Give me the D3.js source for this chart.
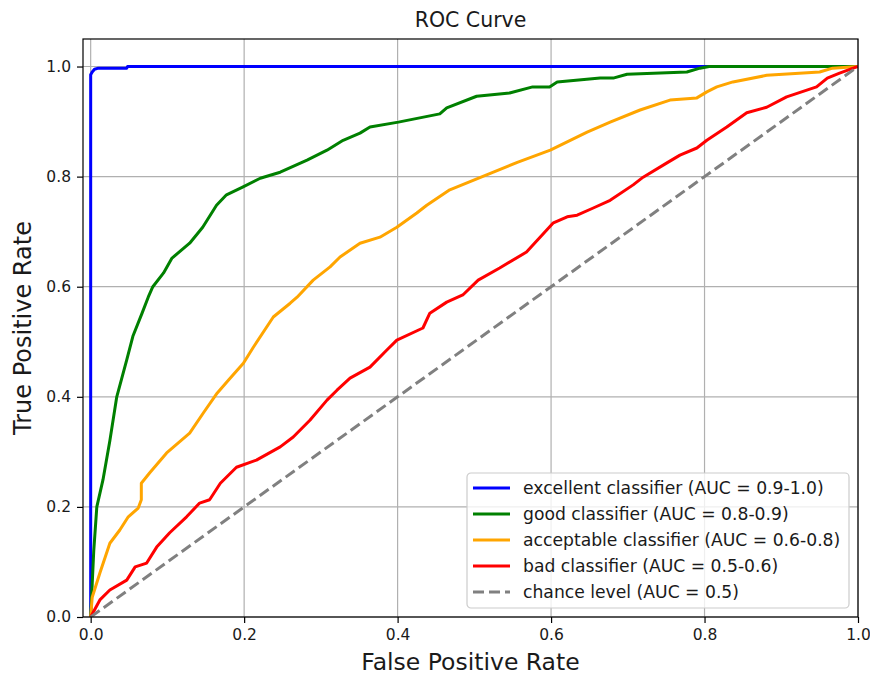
<!DOCTYPE html>
<html>
<head>
<meta charset="utf-8">
<script src="https://cdn.jsdelivr.net/npm/d3@7"></script>
<style>
  body { margin: 0; background: #fff; }
  svg text { font-family: "DejaVu Sans", sans-serif; fill: #1a1a1a; }
</style>
</head>
<body>
<svg id="chart" width="870" height="677"></svg>
<script>
// ROC curve values (false positive rate, true positive rate)
const excellentFpr = [0, 0, 0.002, 0.005, 0.01, 0.047, 0.048, 1.0];
const excellentTpr = [0, 0.985, 0.99, 0.995, 0.997, 0.997, 1.0, 1.0];

const goodFpr = [0, 0.002, 0.004, 0.008, 0.016, 0.025, 0.034, 0.047, 0.055, 0.067, 0.075, 0.081, 0.095, 0.106, 0.129, 0.146, 0.164, 0.177, 0.198, 0.221, 0.247, 0.282, 0.308, 0.329, 0.351, 0.364, 0.401, 0.455, 0.464, 0.503, 0.546, 0.576, 0.598, 0.608, 0.664, 0.681, 0.699, 0.777, 0.794, 0.806, 1.0];
const goodTpr = [0, 0.06, 0.12, 0.2, 0.249, 0.32, 0.4, 0.467, 0.51, 0.552, 0.581, 0.6, 0.625, 0.652, 0.679, 0.708, 0.748, 0.767, 0.781, 0.797, 0.808, 0.83, 0.848, 0.866, 0.879, 0.89, 0.899, 0.914, 0.925, 0.946, 0.952, 0.963, 0.963, 0.972, 0.979, 0.979, 0.986, 0.99, 0.997, 1.0, 1.0];

const acceptableFpr = [0, 0.002, 0.012, 0.019, 0.025, 0.038, 0.049, 0.062, 0.066, 0.066, 0.077, 0.099, 0.129, 0.147, 0.165, 0.18, 0.199, 0.212, 0.238, 0.26, 0.269, 0.29, 0.312, 0.325, 0.351, 0.377, 0.399, 0.425, 0.438, 0.468, 0.516, 0.556, 0.599, 0.647, 0.677, 0.716, 0.755, 0.79, 0.803, 0.816, 0.837, 0.881, 0.95, 0.967, 1.0];
const acceptableTpr = [0, 0.036, 0.08, 0.109, 0.134, 0.158, 0.182, 0.198, 0.213, 0.243, 0.262, 0.298, 0.334, 0.371, 0.407, 0.431, 0.461, 0.49, 0.545, 0.57, 0.581, 0.612, 0.636, 0.654, 0.679, 0.69, 0.708, 0.734, 0.748, 0.776, 0.803, 0.826, 0.848, 0.881, 0.899, 0.921, 0.939, 0.943, 0.954, 0.963, 0.972, 0.984, 0.99, 0.997, 1.0];

const badFpr = [0, 0.012, 0.025, 0.047, 0.058, 0.073, 0.086, 0.103, 0.125, 0.142, 0.155, 0.169, 0.19, 0.216, 0.247, 0.264, 0.286, 0.308, 0.321, 0.338, 0.364, 0.386, 0.399, 0.433, 0.442, 0.464, 0.485, 0.505, 0.533, 0.568, 0.603, 0.621, 0.634, 0.655, 0.677, 0.707, 0.72, 0.751, 0.768, 0.79, 0.803, 0.829, 0.855, 0.881, 0.907, 0.946, 0.96, 0.976, 1.0];
const badTpr = [0, 0.031, 0.049, 0.067, 0.091, 0.098, 0.127, 0.153, 0.182, 0.207, 0.213, 0.243, 0.272, 0.285, 0.309, 0.327, 0.358, 0.394, 0.412, 0.434, 0.454, 0.485, 0.503, 0.525, 0.552, 0.572, 0.585, 0.612, 0.634, 0.663, 0.716, 0.727, 0.73, 0.743, 0.757, 0.785, 0.799, 0.825, 0.839, 0.852, 0.866, 0.89, 0.916, 0.926, 0.945, 0.963, 0.979, 0.988, 1.0];

const chanceFpr = [0, 1];
const chanceTpr = [0, 1];

const seriesNames = [
  "excellent classifier (AUC = 0.9-1.0)",
  "good classifier (AUC = 0.8-0.9)",
  "acceptable classifier (AUC = 0.6-0.8)",
  "bad classifier (AUC = 0.5-0.6)",
  "chance level (AUC = 0.5)"
];
const seriesColors = ["blue", "green", "orange", "red", "gray"];
const tickValues = [0, 0.2, 0.4, 0.6, 0.8, 1.0];

const series = [
  { fpr: excellentFpr, tpr: excellentTpr },
  { fpr: goodFpr, tpr: goodTpr },
  { fpr: acceptableFpr, tpr: acceptableTpr },
  { fpr: badFpr, tpr: badTpr },
  { fpr: chanceFpr, tpr: chanceTpr, dashed: true }
].map((s, i) => ({
  ...s,
  name: seriesNames[i],
  color: seriesColors[i],
  points: s.fpr.map((x, j) => [x, s.tpr[j]])
}));

const svg = d3.select("#chart");
const margin = { top: 39, right: 12, bottom: 60, left: 83 };
const width = 870 - margin.left - margin.right;
const height = 677 - margin.top - margin.bottom;

const g = svg.append("g")
  .attr("transform", `translate(${margin.left},${margin.top})`);

const x = d3.scaleLinear().domain([-0.01, 1.0]).range([0, width]);
const y = d3.scaleLinear().domain([0, 1.05]).range([height, 0]);

// grid
g.append("g")
  .selectAll("line")
  .data(tickValues)
  .join("line")
  .attr("x1", d => x(d)).attr("x2", d => x(d))
  .attr("y1", 0).attr("y2", height)
  .attr("stroke", "#b0b0b0").attr("stroke-width", 1.2);

g.append("g")
  .selectAll("line")
  .data(tickValues)
  .join("line")
  .attr("x1", 0).attr("x2", width)
  .attr("y1", d => y(d)).attr("y2", d => y(d))
  .attr("stroke", "#b0b0b0").attr("stroke-width", 1.2);

// curves
const line = d3.line()
  .x(d => x(d[0]))
  .y(d => y(d[1]));

const plot = g.append("g");
plot.append("clipPath").attr("id", "clip")
  .append("rect").attr("width", width).attr("height", height);

series.forEach(s => {
  plot.append("path")
    .datum(s.points)
    .attr("d", line)
    .attr("fill", "none")
    .attr("stroke", s.color)
    .attr("stroke-width", 3)
    .attr("stroke-linejoin", "round")
    .attr("stroke-dasharray", s.dashed ? "11,5" : null)
    .attr("clip-path", "url(#clip)");
});

// axes
const xAxis = g.append("g")
  .attr("transform", `translate(0,${height})`)
  .call(d3.axisBottom(x).tickValues(tickValues).tickFormat(d3.format(".1f")).tickSize(6).tickPadding(6));

const yAxis = g.append("g")
  .call(d3.axisLeft(y).tickValues(tickValues).tickFormat(d3.format(".1f")).tickSize(6).tickPadding(6));

[xAxis, yAxis].forEach(ax => {
  ax.select(".domain").remove();
  ax.selectAll("line").attr("stroke", "#000").attr("stroke-width", 1.2);
  ax.selectAll("text").style("font-size", "15.5px").attr("fill", "#1a1a1a");
});

// frame
g.append("rect")
  .attr("width", width).attr("height", height)
  .attr("fill", "none").attr("stroke", "#000").attr("stroke-width", 1.2);

// title and axis labels
svg.append("text")
  .attr("x", margin.left + width / 2)
  .attr("y", 27)
  .attr("text-anchor", "middle")
  .style("font-size", "20.5px")
  .text("ROC Curve");

svg.append("text")
  .attr("x", margin.left + width / 2)
  .attr("y", 670)
  .attr("text-anchor", "middle")
  .style("font-size", "23.5px")
  .text("False Positive Rate");

svg.append("text")
  .attr("transform", `translate(31,${margin.top + height / 2}) rotate(-90)`)
  .attr("text-anchor", "middle")
  .style("font-size", "24px")
  .text("True Positive Rate");

// legend
const legend = g.append("g")
  .attr("transform", `translate(${467 - margin.left},${473 - margin.top})`);

legend.append("rect")
  .attr("width", 382).attr("height", 135)
  .attr("rx", 4)
  .attr("fill", "#fff").attr("fill-opacity", 0.8)
  .attr("stroke", "#cccccc").attr("stroke-width", 1.2);

const items = legend.selectAll(".item")
  .data(series)
  .join("g")
  .attr("class", "item")
  .attr("transform", (d, i) => `translate(0,${15 + i * 26})`);

items.append("line")
  .attr("x1", 6).attr("x2", 43)
  .attr("y1", 0).attr("y2", 0)
  .attr("stroke", d => d.color)
  .attr("stroke-width", 3)
  .attr("stroke-dasharray", d => d.dashed ? "11,5" : null);

items.append("text")
  .attr("x", 56)
  .attr("y", 0)
  .attr("dy", "0.35em")
  .style("font-size", "17.2px")
  .text(d => d.name);
</script>
</body>
</html>
